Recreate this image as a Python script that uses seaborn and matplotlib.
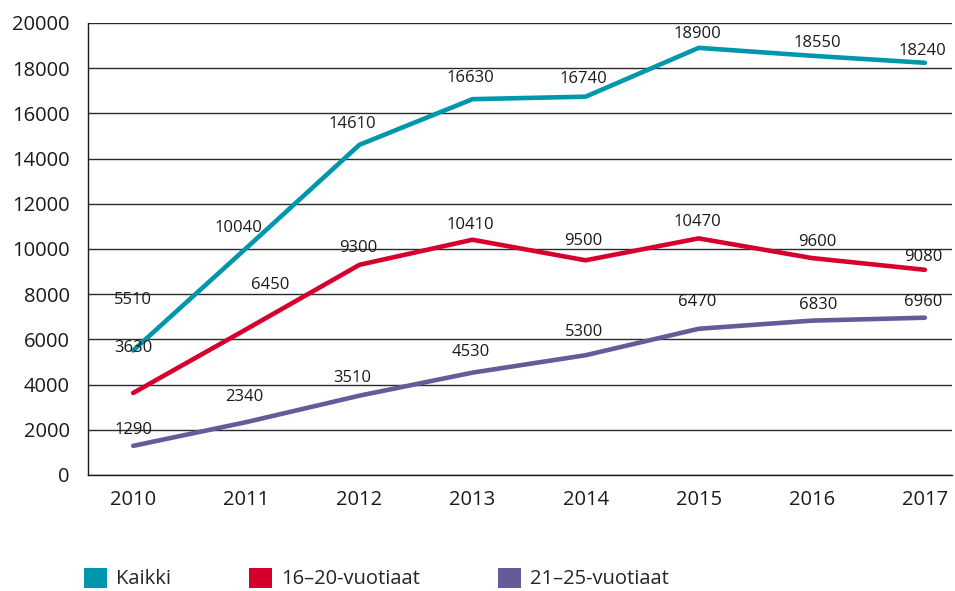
import pandas as pd
import numpy as np
import matplotlib.pyplot as plt
import seaborn as sns
from matplotlib.patches import Patch

# Data
years = ['2010', '2011', '2012', '2013', '2014', '2015', '2016', '2017']
kaikki = [5510, 10040, 14610, 16630, 16740, 18900, 18550, 18240]
vuotiaat_16_20 = [3630, 6450, 9300, 10410, 9500, 10470, 9600, 9080]
vuotiaat_21_25 = [1290, 2340, 3510, 4530, 5300, 6470, 6830, 6960]
series_names = ['Kaikki', '16–20-vuotiaat', '21–25-vuotiaat']
colors = ['#0096ab', '#d6002f', '#665a99']

# label offsets in pixels (dx, dy) so the numbers sit like in the original
label_offsets = {
    'Kaikki': [(0, 50), (-8, 20), (-7, 21), (-2, 21), (-2, 18), (-1, 14), (6, 13), (-2, 12)],
    '16–20-vuotiaat': [(0, 45), (24, 44), (-1, 17), (-2, 15), (-2, 19), (-1, 16), (6, 16), (-2, 13)],
    '21–25-vuotiaat': [(0, 16), (-2, 25), (-7, 18), (-2, 21), (-2, 23), (-1, 27), (6, 16), (-2, 16)],
}

df = pd.DataFrame({
    'vuosi': years * 3,
    'x': list(range(len(years))) * 3,
    'arvo': kaikki + vuotiaat_16_20 + vuotiaat_21_25,
    'ryhmä': [n for n in series_names for _ in years],
})

sns.set_theme(style='white')
plt.rcParams['font.family'] = ['Open Sans', 'DejaVu Sans']

fig = plt.figure(figsize=(9.55, 5.91), dpi=100)
ax = fig.add_axes([88 / 955, 1 - 475 / 591, (952 - 88) / 955, (475 - 23) / 591])

sns.lineplot(data=df, x='x', y='arvo', hue='ryhmä', palette=colors,
             linewidth=3.3, legend=False, ax=ax, zorder=3)
for line in ax.lines:
    line.set_solid_capstyle('round')
    line.set_solid_joinstyle('round')

# data labels
for name in series_names:
    sub = df[df['ryhmä'] == name]
    for (xv, yv), (dx, dy) in zip(zip(sub['x'], sub['arvo']), label_offsets[name]):
        ax.annotate(str(yv), (xv, yv), xytext=(dx, dy), textcoords='offset pixels',
                    ha='center', va='center', fontsize=12, color='#1a1a1a', zorder=4)

ax.set_xlim(-0.4, 7.24)
ax.set_ylim(0, 20000)
ax.set_yticks(np.arange(0, 20001, 2000))
ax.set_xticks(range(len(years)))
ax.set_xticklabels(years)
ax.grid(axis='y', color='#2b2b2b', linewidth=1.0, zorder=1)
ax.grid(axis='x', visible=False)
ax.set_axisbelow(True)
for s in ['top', 'right']:
    ax.spines[s].set_visible(False)
ax.spines['left'].set_color('#1a1a1a')
ax.spines['left'].set_linewidth(1.0)
ax.spines['bottom'].set_color('#1a1a1a')
ax.spines['bottom'].set_linewidth(1.0)
ax.tick_params(axis='y', length=0, pad=13, labelsize=14.5, labelcolor='#1a1a1a')
ax.tick_params(axis='x', length=0, pad=11, labelsize=14.5, labelcolor='#1a1a1a')
ax.set_xlabel('')
ax.set_ylabel('')

# legend below the chart
handles = [Patch(facecolor=c, edgecolor='none', label=n) for c, n in zip(colors, series_names)]
fig.legend(handles=handles, loc='lower left', bbox_to_anchor=(66 / 955, -0.028), ncol=3,
           frameon=False, fontsize=14.5, handlelength=1.15, handleheight=1.15,
           handletextpad=0.45, columnspacing=3.85)

fig.savefig('out.png', dpi=100)
